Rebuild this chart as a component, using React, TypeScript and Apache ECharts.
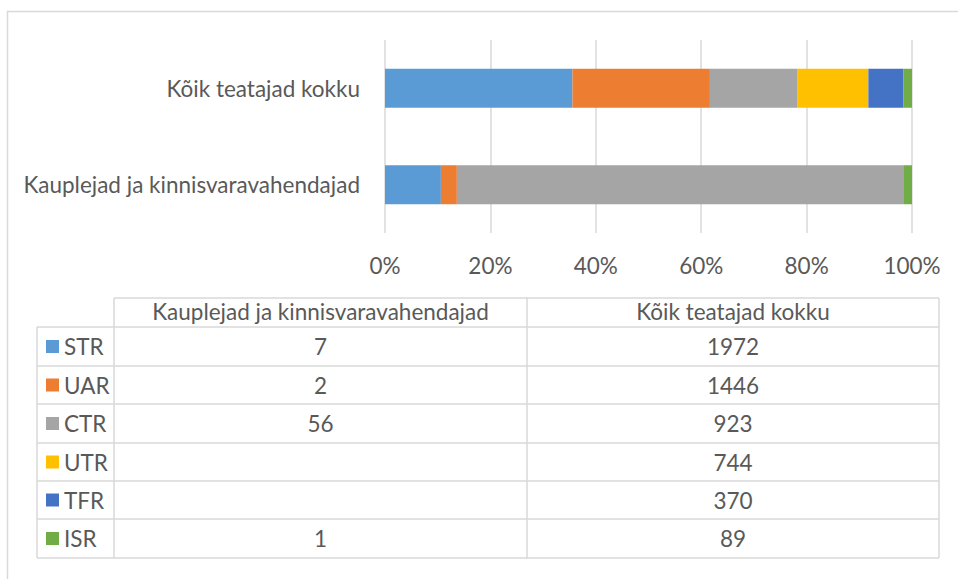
import React, { useEffect, useRef } from "react";
import * as echarts from "echarts";

const categories = ["Kauplejad ja kinnisvaravahendajad", "Kõik teatajad kokku"];
const seriesNames = ["STR", "UAR", "CTR", "UTR", "TFR", "ISR"];
const seriesColors = ["#5B9BD5", "#ED7D31", "#A5A5A5", "#FFC000", "#4472C4", "#70AD47"];
const kauplejadValues: (number | null)[] = [7, 2, 56, null, null, 1];
const koikValues: (number | null)[] = [1972, 1446, 923, 744, 370, 89];
const xTicks = [0, 20, 40, 60, 80, 100];

const FONT = "Lato";
const FS = 22.5;
const TEXT = "#595959";
const LINE = "#D9D9D9";

function sum(a: (number | null)[]) {
  return a.reduce((s: number, v) => s + (v ?? 0), 0);
}

export default function App() {
  const ref = useRef<HTMLDivElement>(null);
  useEffect(() => {
    if (!ref.current) return;
    const chart = echarts.init(ref.current, undefined, { renderer: "svg" });
    const totK = sum(kauplejadValues);
    const totA = sum(koikValues);

    const series = seriesNames.map((name, i) => ({
      name,
      type: "bar",
      stack: "total",
      barWidth: 39,
      itemStyle: { color: seriesColors[i] },
      data: [
        kauplejadValues[i] == null ? null : ((kauplejadValues[i] as number) / totK) * 100,
        koikValues[i] == null ? null : ((koikValues[i] as number) / totA) * 100,
      ],
    }));

    // table layout
    const colX = [37, 114, 527, 939];
    const rowY = [298, 327, 366, 404, 443, 481, 519, 558];
    const els: any[] = [];
    const ln = (x1: number, y1: number, x2: number, y2: number) =>
      els.push({
        type: "line",
        shape: { x1, y1, x2, y2 },
        style: { stroke: LINE, lineWidth: 1.5 },
        silent: true,
      });
    const txt = (text: string, x: number, y: number, align: string) =>
      els.push({
        type: "text",
        x,
        y,
        style: {
          text,
          fill: TEXT,
          fontFamily: FONT,
          fontSize: FS,
          align,
          verticalAlign: "middle",
        },
        silent: true,
      });
    // outer border
    els.push({
      type: "rect",
      shape: { x: 7.5, y: 11.5, width: 1100, height: 700 },
      style: { fill: "none", stroke: LINE, lineWidth: 1.5 },
      silent: true,
    });
    ln(colX[1], rowY[0], colX[3], rowY[0]);
    for (let r = 1; r < rowY.length; r++) ln(colX[0], rowY[r], colX[3], rowY[r]);
    ln(colX[0], rowY[1], colX[0], rowY[rowY.length - 1]);
    for (let c = 1; c < colX.length; c++) ln(colX[c], rowY[0], colX[c], rowY[rowY.length - 1]);
    // header
    categories.forEach((c, j) => {
      txt(c, (colX[j + 1] + colX[j + 2]) / 2, (rowY[0] + rowY[1]) / 2 - 1, "center");
    });
    const columns = [kauplejadValues, koikValues];
    seriesNames.forEach((name, i) => {
      const cy = (rowY[i + 1] + rowY[i + 2]) / 2;
      els.push({
        type: "rect",
        shape: { x: 46, y: cy - 6.5, width: 13, height: 13 },
        style: { fill: seriesColors[i] },
        silent: true,
      });
      txt(name, 64, cy, "left");
      columns.forEach((col, j) => {
        const v = col[i];
        if (v != null) txt(String(v), (colX[j + 1] + colX[j + 2]) / 2, cy, "center");
      });
    });

    chart.setOption({
      animation: false,
      backgroundColor: "#ffffff",
      grid: { left: 385, right: 46, top: 40, bottom: 346, containLabel: false },
      xAxis: {
        type: "value",
        min: 0,
        max: 100,
        interval: 20,
        axisLine: { show: false },
        axisTick: { show: false },
        axisLabel: {
          formatter: (v: number) => (xTicks.includes(v) ? `${v}%` : ""),
          color: TEXT,
          fontFamily: FONT,
          fontSize: FS,
          margin: 21,
        },
        splitLine: { show: true, lineStyle: { color: LINE, width: 1.5 } },
      },
      yAxis: {
        type: "category",
        data: categories,
        axisLine: { show: false },
        axisTick: { show: false },
        axisLabel: { color: TEXT, fontFamily: FONT, fontSize: FS, margin: 25 },
      },
      series,
      graphic: { elements: els },
    });
    return () => chart.dispose();
  }, []);
  return (
    <div
      ref={ref}
      style={{ position: "fixed", left: 0, top: 0, width: 958, height: 579 }}
    />
  );
}
